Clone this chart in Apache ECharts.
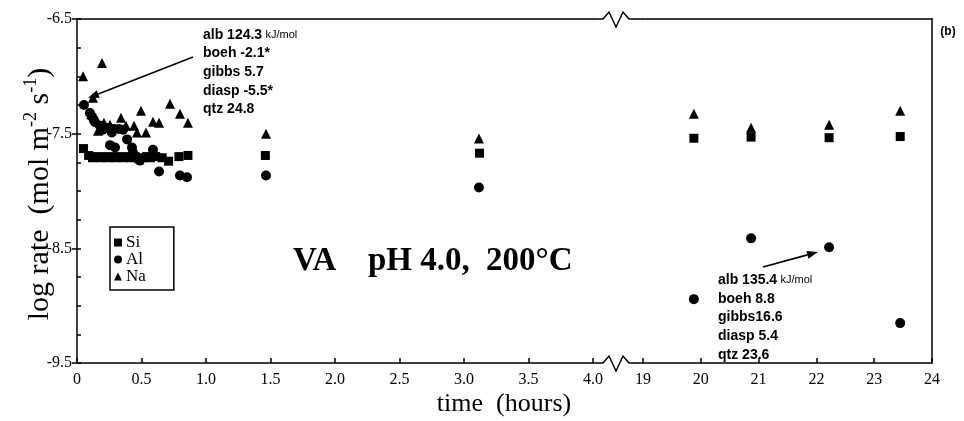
<!DOCTYPE html>
<html>
<head>
<meta charset="utf-8">
<script src="https://cdn.jsdelivr.net/npm/echarts@6/dist/echarts.min.js"></script>
<style>
html,body{margin:0;padding:0;background:#fff;}
#c{width:964px;height:421px;}
</style>
</head>
<body>
<div id="c"></div>
<script>
// ---- data (time in hours, log rate in mol m-2 s-1) ----
const siData = [[0.05,-7.63],[0.09,-7.69],[0.12,-7.71],[0.15,-7.70],[0.18,-7.71],[0.21,-7.70],[0.24,-7.71],[0.27,-7.70],[0.30,-7.71],[0.33,-7.70],[0.36,-7.71],[0.39,-7.70],[0.42,-7.71],[0.45,-7.70],[0.48,-7.72],[0.51,-7.71],[0.54,-7.70],[0.57,-7.71],[0.61,-7.70],[0.66,-7.71],[0.71,-7.74],[0.79,-7.70],[0.86,-7.69],[1.46,-7.69],[3.12,-7.67],[19.88,-7.54],[20.87,-7.53],[22.22,-7.535],[23.45,-7.525]];
const alData = [[0.054,-7.25],[0.10,-7.32],[0.116,-7.35],[0.13,-7.38],[0.14,-7.40],[0.178,-7.43],[0.20,-7.465],[0.24,-7.45],[0.27,-7.49],[0.287,-7.46],[0.326,-7.46],[0.357,-7.465],[0.256,-7.60],[0.295,-7.62],[0.388,-7.55],[0.426,-7.62],[0.434,-7.665],[0.488,-7.735],[0.589,-7.64],[0.636,-7.83],[0.798,-7.865],[0.853,-7.88],[1.465,-7.865],[3.116,-7.97],[19.88,-8.943],[20.87,-8.413],[22.22,-8.491],[23.45,-9.152]];
const naData = [[0.047,-7.00],[0.194,-6.883],[0.124,-7.187],[0.11,-7.33],[0.163,-7.474],[0.209,-7.404],[0.256,-7.422],[0.341,-7.361],[0.38,-7.43],[0.442,-7.43],[0.465,-7.49],[0.496,-7.30],[0.535,-7.49],[0.589,-7.396],[0.636,-7.404],[0.721,-7.239],[0.798,-7.326],[0.86,-7.404],[1.465,-7.50],[3.116,-7.543],[19.88,-7.326],[20.87,-7.448],[22.22,-7.422],[23.45,-7.30]];

const seriesNames = ['Si','Al','Na'];
const xTicksEarly = ['0','0.5','1.0','1.5','2.0','2.5','3.0','3.5','4.0'];
const xTicksLate = ['19','20','21','22','23','24'];
const yTicks = ['-9.5','-8.5','-7.5','-6.5'];
const noteLeft = ['alb 124.3|kJ/mol','boeh -2.1*','gibbs 5.7','diasp -5.5*','qtz 24.8'];
const noteRight = ['alb 135.4|kJ/mol','boeh 8.8','gibbs16.6','diasp 5.4','qtz 23.6'];
const titleParts = ['VA','pH 4.0,','200°C'];

const SERIF = 'Liberation Serif';
const SANS = 'Liberation Sans';
const BREAK_T = 10; // hours: splits early and late panels

const chart = echarts.init(document.getElementById('c'), null, {renderer:'canvas'});

function split(data, late){ return data.filter(d => late ? d[0] > BREAK_T : d[0] <= BREAK_T); }
const symbols = {Si:'rect', Al:'circle', Na:'triangle'};
const sizes = {Si:9, Al:10, Na:10};
const datasets = {Si:siData, Al:alData, Na:naData};

const series = [];
seriesNames.forEach(n => {
  [false,true].forEach(late => {
    series.push({
      name:n, type:'scatter',
      xAxisIndex: late?1:0, yAxisIndex: late?1:0,
      symbol:symbols[n], symbolSize:sizes[n],
      itemStyle:{color:'#000', opacity:1},
      emphasis:{disabled:true},
      data: split(datasets[n], late),
      z: n==='Si'?3:(n==='Al'?4:5)
    });
  });
});

const lineStyle = {color:'#000', width:1.5};
const labelStyle = {color:'#000', fontFamily:SERIF, fontSize:16};

// arrows
function arrow(x1,y1,x2,y2){
  const a = Math.atan2(y2-y1, x2-x1), L=11, W=4;
  const bx = x2 - L*Math.cos(a), by = y2 - L*Math.sin(a);
  return [
    {type:'line', shape:{x1:x1,y1:y1,x2:bx,y2:by}, style:{stroke:'#000', lineWidth:1.6}},
    {type:'polygon', shape:{points:[[x2,y2],[bx + W*Math.sin(a), by - W*Math.cos(a)],[bx - W*Math.sin(a), by + W*Math.cos(a)]]}, style:{fill:'#000'}}
  ];
}
function noteTexts(lines, x, y0, dy){
  return lines.map((t,i) => {
    const p = t.split('|');
    const txt = p.length>1 ? '{b|'+p[0]+'} {s|'+p[1]+'}' : '{b|'+p[0]+'}';
    return {type:'text', x:x, y:y0+i*dy, style:{text:txt, verticalAlign:'middle', align:'left',
      rich:{b:{fontFamily:SANS, fontWeight:'bold', fontSize:14, fill:'#000'}, s:{fontFamily:SANS, fontSize:11, fill:'#000'}}}};
  });
}
function zig(y){
  return {type:'polyline', shape:{points:[[593,y],[603,y],[609,y-7],[616,y+8],[623,y-7],[629,y],[643,y]]}, style:{stroke:'#000', lineWidth:1.5, fill:null}};
}
const titleStyle = {fontFamily:SERIF, fontWeight:'bold', fontSize:33, fill:'#000', verticalAlign:'middle'};

const graphic = [
  zig(363), zig(19),
  ...arrow(193,57,88,98),
  ...arrow(763,267,818,252),
  ...noteTexts(noteLeft, 203, 35, 18.6),
  ...noteTexts(noteRight, 718, 280, 18.8),
  {type:'text', x:293, y:261, style:Object.assign({text:titleParts[0]}, titleStyle)},
  {type:'text', x:368, y:261, style:Object.assign({text:titleParts[1]}, titleStyle)},
  {type:'text', x:486, y:261, style:Object.assign({text:titleParts[2]}, titleStyle)},
  {type:'text', x:948, y:32, style:{text:'(b)', fontFamily:SANS, fontWeight:'bold', fontSize:12, fill:'#000', align:'center', verticalAlign:'middle'}},
  {type:'text', x:504, y:404, style:{text:'time  (hours)', fontFamily:SERIF, fontSize:26, fill:'#000', align:'center', verticalAlign:'middle'}},
  {type:'text', x:40, y:194, rotation:Math.PI/2, style:{
    text:'{a|log rate  (mol m}{s|-2}{a| s}{s|-1}{a|)}', align:'center', verticalAlign:'middle',
    rich:{a:{fontFamily:SERIF, fontSize:30, lineHeight:36, fill:'#000'}, s:{fontFamily:SERIF, fontSize:18, lineHeight:19, verticalAlign:'top', fill:'#000'}}}}
];

const option = {
  backgroundColor:'#fff',
  animation:false,
  grid:[
    {left:77, top:19, width:516, height:344, show:false},
    {left:643, top:19, width:289, height:344, show:false}
  ],
  xAxis:[
    {type:'value', gridIndex:0, min:0, max:4, interval:0.5, position:'bottom',
     axisLine:{lineStyle:lineStyle}, axisTick:{inside:true, length:5, lineStyle:lineStyle},
     splitLine:{show:false}, axisLabel:Object.assign({margin:9, formatter:(v)=>xTicksEarly[Math.round(v/0.5)]}, labelStyle)},
    {type:'value', gridIndex:1, min:19, max:24, interval:1, position:'bottom',
     axisLine:{lineStyle:lineStyle}, axisTick:{inside:true, length:5, lineStyle:lineStyle},
     splitLine:{show:false}, axisLabel:Object.assign({margin:9, formatter:(v)=>xTicksLate[Math.round(v-19)]}, labelStyle)},
    {type:'value', gridIndex:0, min:0, max:4, position:'top', axisLine:{lineStyle:lineStyle}, axisTick:{show:false}, axisLabel:{show:false}, splitLine:{show:false}},
    {type:'value', gridIndex:1, min:19, max:24, position:'top', axisLine:{lineStyle:lineStyle}, axisTick:{show:false}, axisLabel:{show:false}, splitLine:{show:false}}
  ],
  yAxis:[
    {type:'value', gridIndex:0, min:-9.5, max:-6.5, interval:1, position:'left',
     axisLine:{show:true, lineStyle:lineStyle}, axisTick:{inside:false, length:5, lineStyle:lineStyle},
     splitLine:{show:false}, axisLabel:Object.assign({margin:5, formatter:(v)=>yTicks[Math.round(v+9.5)]}, labelStyle)},
    {type:'value', gridIndex:1, min:-9.5, max:-6.5, position:'right',
     axisLine:{show:true, lineStyle:lineStyle}, axisTick:{show:false}, axisLabel:{show:false}, splitLine:{show:false}},
    {type:'value', gridIndex:0, min:-9.5, max:-6.5, interval:0.25, position:'left',
     axisLine:{show:false}, axisTick:{inside:true, length:4, lineStyle:lineStyle}, axisLabel:{show:false}, splitLine:{show:false}}
  ],
  legend:{
    data:seriesNames, orient:'vertical', left:110, top:227,
    padding:[7,28,5,4], itemGap:0, itemWidth:8, itemHeight:8,
    borderColor:'#000', borderWidth:1.5, backgroundColor:'#fff',
    selectedMode:false,
    textStyle:{fontFamily:SERIF, fontSize:17, lineHeight:16, color:'#000', padding:[0,0,0,-1]}
  },
  series: series,
  graphic: graphic
};
chart.setOption(option);
</script>
</body>
</html>
